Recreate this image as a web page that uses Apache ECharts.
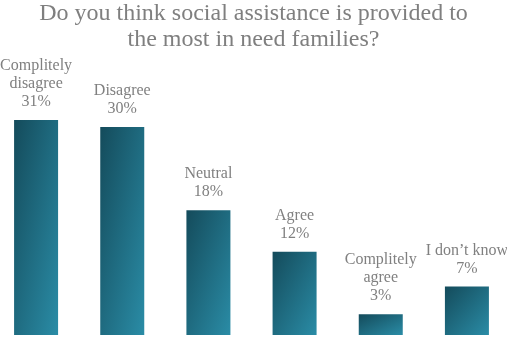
<!DOCTYPE html>
<html>
<head>
<meta charset="utf-8">
<script src="https://cdn.jsdelivr.net/npm/echarts@6/dist/echarts.min.js"></script>
<style>html,body{margin:0;padding:0;background:#fff;}#c{width:507px;height:339px;}</style>
</head>
<body>
<div id="c"></div>
<script>
var categories = ['Complitely\ndisagree', 'Disagree', 'Neutral', 'Agree', 'Complitely\nagree', 'I don\u2019t know'];
var values = [31, 30, 18, 12, 3, 7];
var titleText = 'Do you think social assistance is provided to\nthe most in need families?';

var BAR_W = 44;
var chart = echarts.init(document.getElementById('c'));

function makeGradient(h) {
  // Office-style "scaled" diagonal gradient: isolines follow the bar's own diagonal
  var w = BAR_W;
  var d = h * h + w * w;
  var a = 2 * h * h / d, b = 2 * w * w / d;
  return new echarts.graphic.LinearGradient(0, 0, a, b, [
    { offset: 0, color: '#144b5b' },
    { offset: 1, color: '#2a8ca6' }
  ]);
}

function buildOption(dataItems) {
  return {
    animation: false,
    title: {
      text: titleText,
      left: 'center',
      top: 1,
      padding: 0,
      textStyle: {
        fontFamily: 'Liberation Serif',
        fontSize: 24,
        fontWeight: 'normal',
        color: '#7f7f7f',
        lineHeight: 26
      }
    },
    grid: { left: -7, width: 517, top: 120, bottom: 4, outerBoundsMode: 'none', containLabel: false },
    xAxis: {
      type: 'category',
      data: categories,
      axisLine: { show: false },
      axisTick: { show: false },
      axisLabel: { show: false }
    },
    yAxis: {
      type: 'value',
      min: 0,
      max: 31,
      show: false,
      splitLine: { show: false }
    },
    series: [{
      type: 'bar',
      data: dataItems,
      barWidth: BAR_W,
      itemStyle: { color: '#1f6e82' },
      label: {
        show: true,
        position: 'top',
        distance: 9,
        formatter: function (p) { return p.name + '\n' + p.value + '%'; },
        fontFamily: 'Liberation Serif',
        fontSize: 16,
        lineHeight: 18,
        color: '#808080'
      }
    }]
  };
}

chart.setOption(buildOption(values.slice()));
var base = chart.convertToPixel({ gridIndex: 0 }, [0, 0])[1];
var items = values.map(function (v, i) {
  var top = chart.convertToPixel({ gridIndex: 0 }, [i, v])[1];
  var h = Math.max(1, base - top);
  return { value: v, itemStyle: { color: makeGradient(h) } };
});
chart.setOption(buildOption(items));
</script>
</body>
</html>
